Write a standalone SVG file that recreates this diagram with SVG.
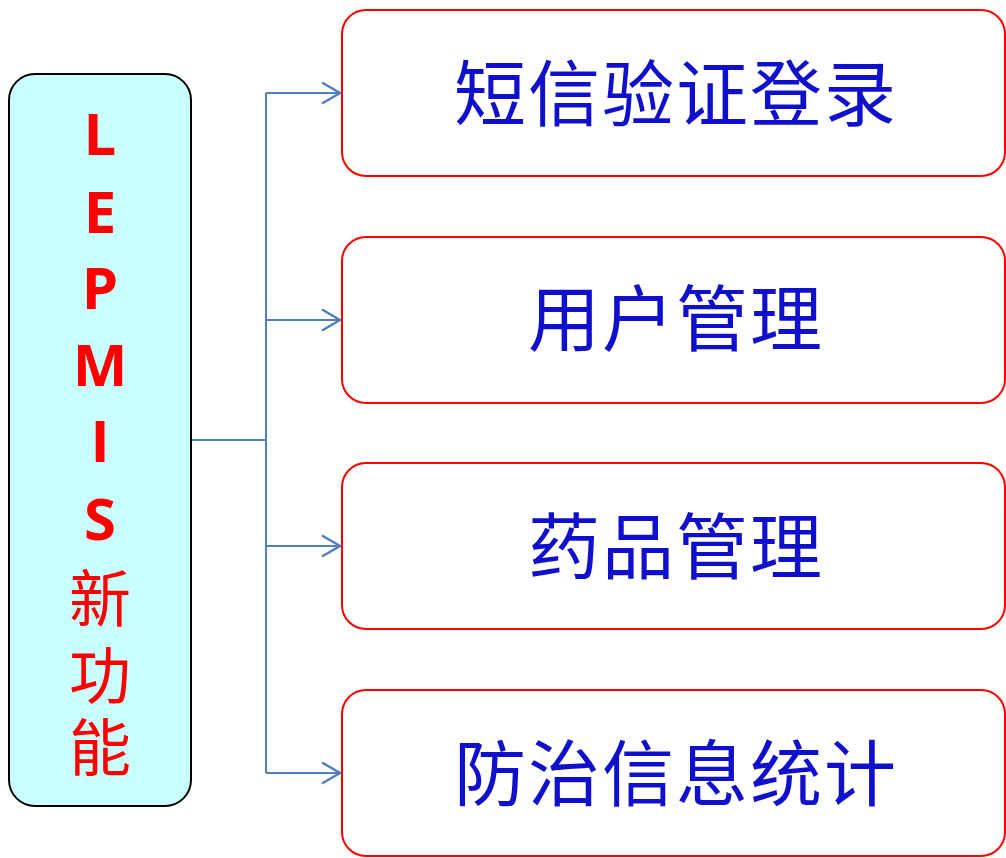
<svg xmlns="http://www.w3.org/2000/svg" width="1006" height="858" viewBox="0 0 1006 858">
<style>
.lbox{fill:#C9FFFF;stroke:#000;stroke-width:2}
.rbox{fill:#fff;stroke:#FF0000;stroke-width:2}
.lat{font-family:"Open Sans","Liberation Sans",sans-serif;font-weight:bold;font-size:58px;fill:#FF0000;text-anchor:middle}
.cjk{font-family:"Noto Sans CJK SC",sans-serif;font-size:62px;fill:#FF0000;text-anchor:middle}
.lab{font-family:"Noto Sans CJK SC",sans-serif;font-size:72px;fill:#1010CC;text-anchor:middle;letter-spacing:2px}
.con{fill:none;stroke:#4F81BD;stroke-width:2}
</style>
<defs>
<marker id="arr" markerUnits="userSpaceOnUse" markerWidth="24" markerHeight="24" refX="20" refY="12" orient="auto">
<path d="M2,1.5 L20,12 L2,22.5" fill="none" stroke="#4F81BD" stroke-width="2.5"/>
</marker>
</defs>
<g id="connectors">
<path class="con" d="M191,440 H266" stroke-width="3"/>
<path class="con" d="M266,93 V773"/>
<path class="con" d="M266,93 H340" marker-end="url(#arr)"/>
<path class="con" d="M266,320 H340" marker-end="url(#arr)"/>
<path class="con" d="M266,546 H340" marker-end="url(#arr)"/>
<path class="con" d="M266,773 H340" marker-end="url(#arr)"/>
</g>
<g id="node-main">
<rect class="lbox" x="9" y="74" width="182" height="732" rx="26"/>
<text class="lat" x="100" y="155">L</text>
<text class="lat" x="100" y="233">E</text>
<text class="lat" x="100" y="309">P</text>
<text class="lat" x="100" y="386">M</text>
<text class="lat" x="100" y="462">I</text>
<text class="lat" x="100" y="540">S</text>
<text class="cjk" x="100" y="622">新<tspan x="100" y="699">功</tspan><tspan x="100" y="771">能</tspan></text>
</g>
<g id="node-1">
<rect class="rbox" x="342" y="10" width="663" height="166" rx="24"/>
<text class="lab" x="676" y="120">短信验证登录</text>
</g>
<g id="node-2">
<rect class="rbox" x="342" y="237" width="663" height="166" rx="24"/>
<text class="lab" x="676" y="345">用户管理</text>
</g>
<g id="node-3">
<rect class="rbox" x="342" y="463" width="663" height="166" rx="24"/>
<text class="lab" x="676" y="573">药品管理</text>
</g>
<g id="node-4">
<rect class="rbox" x="342" y="690" width="663" height="166" rx="24"/>
<text class="lab" x="676" y="800">防治信息统计</text>
</g>
</svg>
